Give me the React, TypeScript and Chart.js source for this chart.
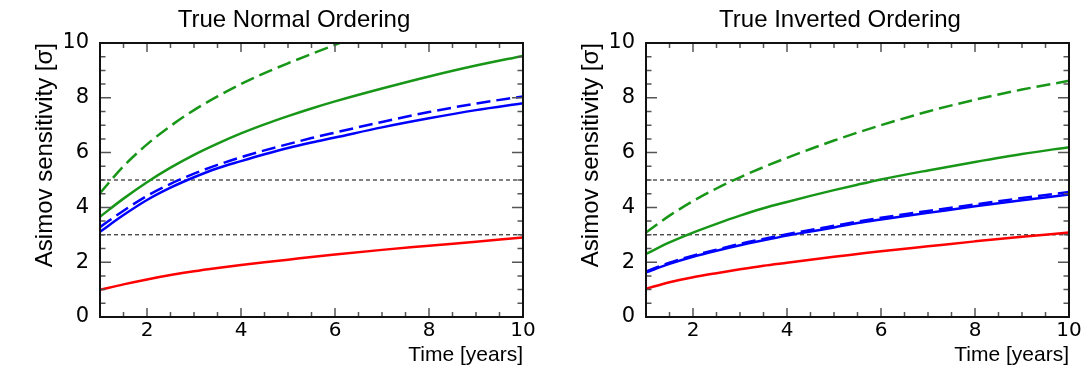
import React, { useEffect, useRef } from 'react';
import { Chart, registerables } from 'chart.js';

Chart.register(...registerables);

// ---------- data ----------
const years = [1, 1.5, 2, 2.5, 3, 3.5, 4, 4.5, 5, 5.5, 6, 7, 8, 9, 10];
const noGreenDashedYears = [1, 1.5, 2, 2.5, 3, 3.5, 4, 4.5, 5, 5.5, 6, 6.1];

// True Normal Ordering
const noGreenDashed = [4.52, 5.5, 6.3, 6.97, 7.55, 8.05, 8.5, 8.9, 9.26, 9.6, 9.93, 10.0];
const noGreenSolid = [3.66, 4.32, 4.92, 5.45, 5.92, 6.33, 6.7, 7.03, 7.33, 7.61, 7.87, 8.34, 8.78, 9.18, 9.53];
const noBlueDashed = [3.28, 3.88, 4.42, 4.86, 5.23, 5.55, 5.83, 6.08, 6.31, 6.53, 6.73, 7.12, 7.48, 7.79, 8.05];
const noBlueSolid = [3.11, 3.72, 4.27, 4.72, 5.1, 5.43, 5.69, 5.94, 6.17, 6.37, 6.55, 6.92, 7.25, 7.55, 7.8];
const noRed = [0.99, 1.19, 1.37, 1.53, 1.67, 1.79, 1.9, 2.0, 2.09, 2.19, 2.28, 2.45, 2.6, 2.75, 2.9];

// True Inverted Ordering
const ioGreenDashed = [3.08, 3.7, 4.23, 4.69, 5.1, 5.47, 5.81, 6.13, 6.44, 6.73, 7.0, 7.5, 7.93, 8.3, 8.62];
const ioGreenSolid = [2.3, 2.72, 3.08, 3.4, 3.7, 3.97, 4.2, 4.42, 4.63, 4.83, 5.02, 5.35, 5.66, 5.95, 6.2];
const ioBlueDashed = [1.66, 1.98, 2.24, 2.46, 2.67, 2.85, 3.02, 3.18, 3.33, 3.48, 3.62, 3.87, 4.11, 4.34, 4.56];
const ioBlueSolid = [1.63, 1.94, 2.2, 2.42, 2.62, 2.8, 2.97, 3.12, 3.27, 3.43, 3.56, 3.8, 4.04, 4.26, 4.47];
const ioRed = [1.03, 1.27, 1.45, 1.6, 1.74, 1.87, 1.98, 2.09, 2.2, 2.3, 2.4, 2.58, 2.76, 2.93, 3.08];

const thresholds = [3, 5];
const xRange = [1, 10];
const yRange = [0, 10];
const xTickLabels = [2, 4, 6, 8, 10];
const yTickLabels = [0, 2, 4, 6, 8, 10];

// ---------- style ----------
const GREEN = 'rgb(24,150,24)';
const BLUE = 'rgb(0,0,255)';
const RED = 'rgb(255,0,0)';
const TEXT_FONT = "'Liberation Sans', Arial, Helvetica, sans-serif";
const TICK_FONT = "'DejaVu Sans', 'Liberation Sans', sans-serif";

const pts = (xs: number[], ys: number[]) => xs.map((x, i) => ({ x, y: ys[i] }));

const frameTicks = {
  id: 'frameTicks',
  afterDraw(chart: any) {
    const { ctx, chartArea: a } = chart;
    const x = chart.scales.x;
    const y = chart.scales.y;
    ctx.save();
    ctx.strokeStyle = '#555';
    ctx.lineWidth = 1.5;
    ctx.beginPath();
    for (let v = xRange[0] + 0.5; v < xRange[1]; v += 0.5) {
      const px = x.getPixelForValue(v);
      const len = Math.abs(v % 2) < 1e-9 ? 9 : 5;
      ctx.moveTo(px, a.bottom);
      ctx.lineTo(px, a.bottom - len);
      ctx.moveTo(px, a.top);
      ctx.lineTo(px, a.top + len);
    }
    for (let v = yRange[0] + 0.5; v < yRange[1]; v += 0.5) {
      const py = y.getPixelForValue(v);
      const len = Math.abs(v % 2) < 1e-9 ? 11 : 5.5;
      ctx.moveTo(a.left, py);
      ctx.lineTo(a.left + len, py);
      ctx.moveTo(a.right, py);
      ctx.lineTo(a.right - len, py);
    }
    ctx.stroke();
    ctx.strokeStyle = '#111';
    ctx.lineWidth = 2;
    ctx.strokeRect(a.left, a.top, a.right - a.left, a.bottom - a.top);
    ctx.restore();
  },
};

type Series = { data: { x: number; y: number }[]; color: string; dashed: boolean };

function makeConfig(title: string, series: Series[]): any {
  const curveSets = series.map((s) => ({
    data: s.data,
    borderColor: s.color,
    borderWidth: 2.5,
    borderDash: s.dashed ? [14, 6] : [],
    pointRadius: 0,
    fill: false,
    cubicInterpolationMode: 'monotone',
  }));
  const thresholdSets = thresholds.map((t) => ({
    data: [
      { x: xRange[0], y: t },
      { x: xRange[1], y: t },
    ],
    borderColor: '#000',
    borderWidth: 1,
    borderDash: [4, 3],
    pointRadius: 0,
    fill: false,
  }));
  return {
    type: 'line',
    data: { datasets: [...curveSets, ...thresholdSets] },
    options: {
      responsive: false,
      animation: false,
      events: [],
      layout: { padding: { left: 65, right: 22, top: 0, bottom: 0 } },
      plugins: {
        legend: { display: false },
        tooltip: { enabled: false },
        title: {
          display: true,
          text: title,
          color: '#000',
          font: { family: TEXT_FONT, size: 24, weight: 'normal', lineHeight: 1.2 },
          padding: { top: 5.6, bottom: 8.6 },
        },
      },
      scales: {
        x: {
          type: 'linear',
          min: xRange[0],
          max: xRange[1],
          grid: { display: false, drawTicks: false },
          border: { display: false },
          afterBuildTicks: (s: any) => {
            s.ticks = xTickLabels.map((v) => ({ value: v }));
          },
          afterFit: (s: any) => {
            s.height = 65;
          },
          ticks: {
            autoSkip: false,
            maxRotation: 0,
            padding: 2,
            color: '#000',
            font: { family: TICK_FONT, size: 20 },
          },
          title: {
            display: true,
            text: 'Time [years]',
            align: 'end',
            color: '#000',
            font: { family: TEXT_FONT, size: 21, lineHeight: 1.2 },
            padding: { top: 0, bottom: 13.7 },
          },
        },
        y: {
          type: 'linear',
          min: yRange[0],
          max: yRange[1],
          grid: { display: false, drawTicks: false },
          border: { display: false },
          afterBuildTicks: (s: any) => {
            s.ticks = yTickLabels.map((v) => ({ value: v }));
          },
          afterFit: (s: any) => {
            s.width = 35;
          },
          ticks: {
            padding: 11,
            color: '#000',
            font: { family: TICK_FONT, size: 21 },
          },
          title: {
            display: true,
            text: 'Asimov sensitivity [σ]',
            align: 'end',
            color: '#000',
            font: { family: TEXT_FONT, size: 24, lineHeight: 1.2 },
            padding: { top: -33.7, bottom: 0 },
          },
        },
      },
    },
    plugins: [frameTicks],
  };
}

function Panel({ title, series, left }: { title: string; series: Series[]; left: number }) {
  const ref = useRef<HTMLCanvasElement | null>(null);
  useEffect(() => {
    if (!ref.current) return;
    const chart = new Chart(ref.current, makeConfig(title, series));
    return () => chart.destroy();
  }, []);
  return (
    <canvas
      ref={ref}
      width={545}
      height={382}
      style={{ position: 'absolute', left, top: 0, width: 545, height: 382 }}
    />
  );
}

export default function App() {
  const normal: Series[] = [
    { data: pts(noGreenDashedYears, noGreenDashed), color: GREEN, dashed: true },
    { data: pts(years, noGreenSolid), color: GREEN, dashed: false },
    { data: pts(years, noBlueDashed), color: BLUE, dashed: true },
    { data: pts(years, noBlueSolid), color: BLUE, dashed: false },
    { data: pts(years, noRed), color: RED, dashed: false },
  ];
  const inverted: Series[] = [
    { data: pts(years, ioGreenDashed), color: GREEN, dashed: true },
    { data: pts(years, ioGreenSolid), color: GREEN, dashed: false },
    { data: pts(years, ioBlueDashed), color: BLUE, dashed: true },
    { data: pts(years, ioBlueSolid), color: BLUE, dashed: false },
    { data: pts(years, ioRed), color: RED, dashed: false },
  ];
  return (
    <div style={{ position: 'absolute', left: 0, top: 0, width: 1091, height: 382, background: '#fff' }}>
      <Panel title="True Normal Ordering" series={normal} left={0} />
      <Panel title="True Inverted Ordering" series={inverted} left={546} />
    </div>
  );
}
